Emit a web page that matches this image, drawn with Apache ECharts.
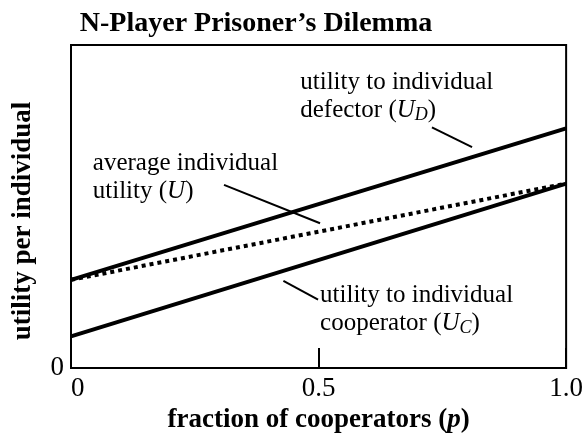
<!DOCTYPE html>
<html>
<head>
<meta charset="utf-8">
<script src="https://cdn.jsdelivr.net/npm/echarts@6/dist/echarts.min.js"></script>
<style>
html,body{margin:0;padding:0;background:#fff;}
#c{width:586px;height:439px;}
</style>
</head>
<body>
<div id="c"></div>
<script>
// ---- data ----
const pValues = [0, 1];
const defectorUtility = [0.273, 0.742];   // U_D
const cooperatorUtility = [0.098, 0.571]; // U_C
const averageUtility = [0.273, 0.571];    // U
const xTickValues = [0, 0.5, 1];
const xTickLabels = ['0', '0.5', '1.0'];
const yTickLabels = ['0'];

// annotations in data coordinates
const annotations = [
  {anchor: [0.463, 0.924], lines: [
    '{n|utility to individual}',
    '{n|defector (}{i|U}{s|D}{n|)}']},
  {anchor: [0.044, 0.672], lines: [
    '{n|average individual}',
    '{n|utility (}{i|U}{n|)}']},
  {anchor: [0.503, 0.264], lines: [
    '{n|utility to individual}',
    '{n|cooperator (}{i|U}{s|C}{n|)}']}
];
const leaders = [
  [[0.729, 0.745], [0.810, 0.684]],
  [[0.309, 0.567], [0.503, 0.448]],
  [[0.429, 0.270], [0.499, 0.212]]
];

const FONT = '"Liberation Serif", "Times New Roman", serif';
const chart = echarts.init(document.getElementById('c'), null, {renderer: 'canvas'});

function pairs(ys) { return pValues.map((p, i) => [p, ys[i]]); }

chart.setOption({
  animation: false,
  backgroundColor: '#fff',
  title: {
    text: 'N-Player Prisoner\u2019s Dilemma',
    left: 251, top: 5, textAlign: 'center',
    textStyle: {fontFamily: FONT, fontWeight: 'bold', fontSize: 28, color: '#000'}
  },
  grid: {left: 71, right: 16, top: 45, bottom: 68, show: true,
         borderColor: '#000', borderWidth: 2, backgroundColor: 'transparent'},
  xAxis: {
    type: 'value', min: 0, max: 1, interval: 0.5,
    axisLine: {show: false},
    axisTick: {show: true, inside: true, length: 20, lineStyle: {color: '#000', width: 2}},
    splitLine: {show: false},
    axisLabel: {
      color: '#000', fontFamily: FONT, fontSize: 27, margin: 7,
      alignMinLabel: 'left',
      formatter: v => { const k = xTickValues.indexOf(v); return k >= 0 ? xTickLabels[k] : ''; }
    },
    name: '{b|fraction of cooperators (}{bi|p}{b|)}',
    nameLocation: 'middle', nameGap: 39,
    nameTextStyle: {
      rich: {
        b: {fontFamily: FONT, fontWeight: 'bold', fontSize: 27, color: '#000'},
        bi: {fontFamily: FONT, fontWeight: 'bold', fontStyle: 'italic', fontSize: 27, color: '#000'}
      }
    }
  },
  yAxis: {
    type: 'value', min: 0, max: 1, interval: 1,
    axisLine: {show: false}, axisTick: {show: false}, splitLine: {show: false},
    axisLabel: {
      color: '#000', fontFamily: FONT, fontSize: 27, margin: 7,
      formatter: v => v === 0 ? yTickLabels[0] : ''
    }
  },
  series: [
    {type: 'line', data: pairs(defectorUtility), symbol: 'none',
     lineStyle: {color: '#000', width: 4}, z: 3,
     markLine: {silent: true, symbol: 'none', label: {show: false},
       lineStyle: {color: '#000', width: 2, type: 'solid'},
       data: leaders.map(l => [{coord: l[0]}, {coord: l[1]}])}},
    {type: 'line', data: pairs(cooperatorUtility), symbol: 'none',
     lineStyle: {color: '#000', width: 4}, z: 3},
    {type: 'line', data: pairs(averageUtility), symbol: 'none',
     lineStyle: {color: '#000', width: 4, type: [4, 4], cap: 'butt'}, z: 4}
  ]
});

const rich = {
  n: {fontFamily: FONT, fontSize: 25, color: '#000', lineHeight: 28},
  i: {fontFamily: FONT, fontSize: 25, fontStyle: 'italic', color: '#000', lineHeight: 28},
  s: {fontFamily: FONT, fontSize: 18, fontStyle: 'italic', color: '#000', verticalAlign: 'bottom'}
};
const gfx = [];
annotations.forEach(a => {
  const pt = chart.convertToPixel({gridIndex: 0}, a.anchor);
  gfx.push({type: 'text', left: pt[0], top: pt[1], silent: true,
    style: {text: a.lines.join('\n'), rich: rich, fill: '#000'}});
});
gfx.push({type: 'text', silent: true, x: 23, y: 221, rotation: Math.PI / 2,
  style: {text: 'utility per individual', fontFamily: FONT, fontWeight: 'bold', fontSize: 27,
          fill: '#000', align: 'center', verticalAlign: 'middle'}});
chart.setOption({graphic: gfx});
</script>
</body>
</html>
